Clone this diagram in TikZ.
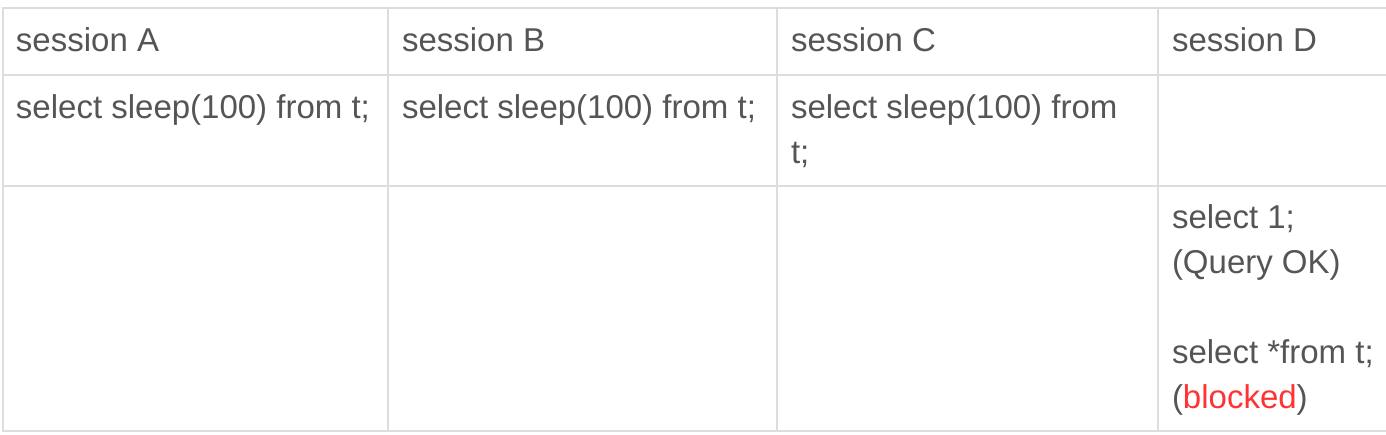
\documentclass[tikz,border=0pt]{standalone}
\usepackage{fontspec}
\setmainfont{Liberation Sans}
\definecolor{txt}{HTML}{555555}
\definecolor{rule}{HTML}{DDDDDD}
\definecolor{warn}{HTML}{FF3333}
\begin{document}
\begin{tikzpicture}[x=0.75pt,y=-0.75pt,
  cell/.style={anchor=base west,inner sep=0pt,outer sep=0pt,text=txt,font=\fontsize{24.75}{33.75}\selectfont},
  gridline/.style={draw=rule,line width=1.2pt}]
\useasboundingbox (0,0) rectangle (1386,435);
% grid
\draw[gridline] (1386,8) -- (3,8) -- (3,431) -- (1386,431);
\draw[gridline] (3,75) -- (1386,75);
\draw[gridline] (3,186) -- (1386,186);
\draw[gridline] (388,8) -- (388,431);
\draw[gridline] (777,8) -- (777,431);
\draw[gridline] (1158,8) -- (1158,431);
% header
\node[cell] (hA) at (16,52) {session A};
\node[cell] (hB) at (402,52) {session B};
\node[cell] (hC) at (791,52) {session C};
\node[cell] (hD) at (1172,52) {session D};
% row 2
\node[cell] (a2) at (16,118) {select sleep(100) from t;};
\node[cell] (b2) at (402,118) {select sleep(100) from t;};
\node[cell] (c2) at (791,118) {select sleep(100) from};
\node[cell] (c2b) at (791,163) {t;};
% row 3
\node[cell] (d3a) at (1172,228) {select 1;};
\node[cell] (d3b) at (1172,273) {(Query OK)};
\node[cell] (d3c) at (1172,363) {select *from t;};
\node[cell] (d3d) at (1172,408) {(\textcolor{warn}{blocked})};
\end{tikzpicture}
\end{document}
